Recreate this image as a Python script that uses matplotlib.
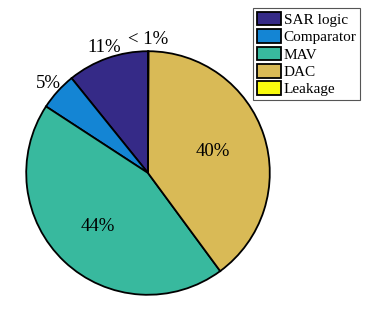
'''
Power breakdown pie chart of the SAR ADC blocks.
'''
import matplotlib
matplotlib.use("Agg")
import matplotlib.pyplot as plt
import numpy as np

# Block names and share of total power (%)
blocks = ["SAR logic", "Comparator", "MAV", "DAC", "Leakage"]
power_share = [10.8, 5.0, 44.3, 39.85, 0.05]
slice_labels = ["11%", "5%", "44%", "40%", "< 1%"]
slice_colors = ["#352a87", "#1485d4", "#38b99e", "#d9ba56", "#f9fb0e"]

# Label distance from the centre (fraction of radius) for each slice
label_radius = [1.09, 1.1, 0.6, 0.56, 1.1]

plt.rcParams["font.family"] = ["Liberation Serif", "DejaVu Serif"]

fig = plt.figure(figsize=(3.74, 3.13), dpi=100)
ax = fig.add_axes([25 / 374, 17 / 313, 246 / 374, 246 / 313])

wedges, _ = ax.pie(
  power_share,
  colors=slice_colors,
  startangle=90,
  counterclock=True,
  wedgeprops={"edgecolor": "black", "linewidth": 1.3},
)

# Put each percentage at its slice mid-angle
for wedge, text, r in zip(wedges, slice_labels, label_radius):
  mid = np.deg2rad((wedge.theta1 + wedge.theta2) / 2)
  ax.text(r * np.cos(mid), r * np.sin(mid), text,
          ha="center", va="center", fontsize=13.5)

ax.set_xlim(-1.01, 1.01)
ax.set_ylim(-1.01, 1.01)
ax.set_aspect("equal")
ax.axis("off")

legend = fig.legend(
  wedges, blocks,
  loc="upper left",
  bbox_to_anchor=(253 / 374, 1 - 8 / 313),
  borderaxespad=0,
  fontsize=11,
  fancybox=False,
  edgecolor="#555555",
  framealpha=1,
  handlelength=1.6,
  handleheight=1.0,
  handletextpad=0.15,
  labelspacing=0.15,
  borderpad=0.25,
)
legend.get_frame().set_linewidth(0.8)

fig.savefig("out.png", dpi=100)
